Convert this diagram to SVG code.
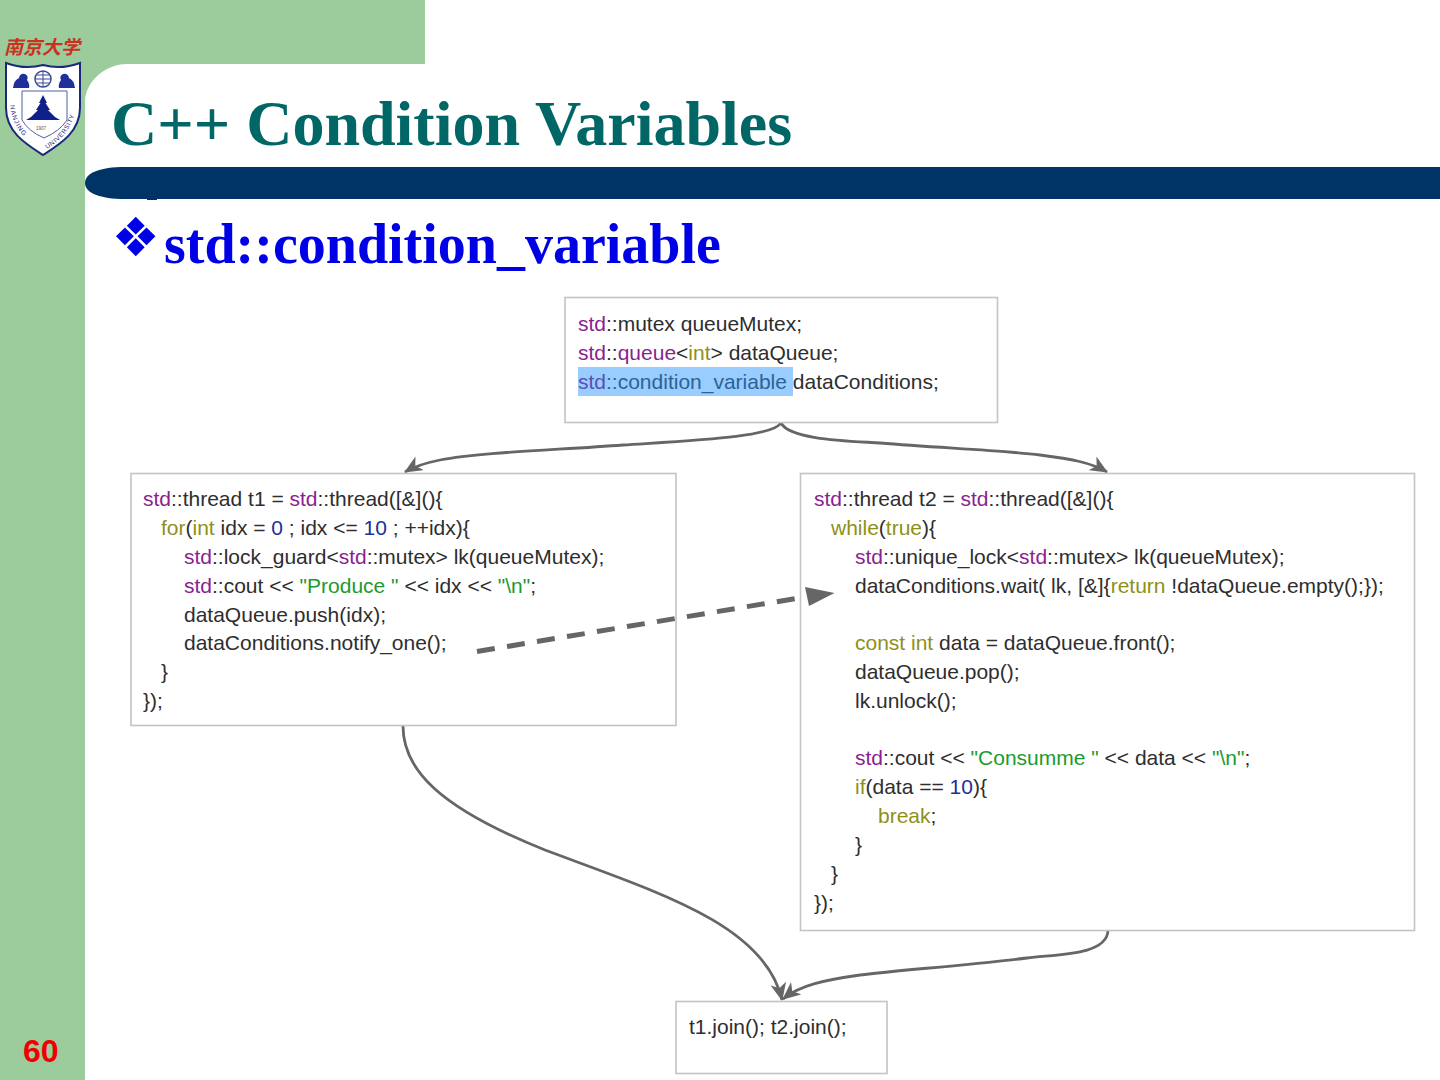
<svg xmlns="http://www.w3.org/2000/svg" xmlns:xlink="http://www.w3.org/1999/xlink" width="1440" height="1080" viewBox="0 0 1440 1080">
<style>
.box{fill:#fff;stroke:#c4c4c4;stroke-width:1.6}
.code{font-family:"Liberation Sans",Arial,sans-serif;font-size:21px;fill:#2e2e2e}
.k{fill:#8a1f8f}.y{fill:#8f8f1a}.g{fill:#1d9a2e}.n{fill:#1c2f9a}.hk{fill:#5a50b0}.hb{fill:#2a6496}
.edge{fill:none;stroke:#666;stroke-width:2.800}
.head{fill:#666}
.crest{font-family:"Liberation Sans",sans-serif;font-size:6.500px;fill:#1a2a7a}
</style>
<defs>
<marker id="ah" viewBox="0 0 18 16" refX="17" refY="8" markerWidth="18" markerHeight="16" markerUnits="userSpaceOnUse" orient="auto"><path d="M0 0L18 8L0 16L5 8Z" class="head"/></marker>
</defs>
<rect width="1440" height="1080" fill="#fff"/>
<g id="bg">
<path d="M0 0H425V64H127C105 64 85 82 85 102V1080H0Z" fill="#9ccc9c"/>
<path d="M85 183C85 173 100 167 125 167H1440V199H125C100 199 85 193 85 183Z" fill="#003366"/>
<rect x="147" y="198" width="10" height="2" fill="#003366"/>
</g>
<g id="logo">
<text x="4" y="54" font-family="'Noto Sans CJK SC',sans-serif" font-size="19" font-weight="700" fill="#c8321e" font-style="italic">南京大学</text>
<path d="M6 63Q25 70 43 65Q61 70 80 63V108C80 132 60 144 43 155C26 144 6 132 6 108Z" fill="#fff" stroke="#1a2a7a" stroke-width="2"/>
<path d="M22 91H67V120Q60 131 44 138Q28 131 22 120Z" fill="#fff" stroke="#5060a0" stroke-width="1"/>
<path d="M43 95L47 103H45.500L50 110H48L55 117L60 120H26L31 117L38 110H36L40.500 103H39Z" fill="#10208a"/>
<circle cx="43" cy="79" r="8" fill="#fff" stroke="#3a4a9a" stroke-width="1.500"/>
<path d="M35 79H51M43 71V87M36.500 75H49.500M36.500 83H49.500" stroke="#3a4a9a" stroke-width="1" fill="none"/>
<path d="M13 88Q14 80 19 78Q20 73 25 74Q29 76 27 80Q30 84 29 88Z" fill="#20309a"/>
<path d="M75 88Q74 80 69 78Q68 73 63 74Q59 76 61 80Q58 84 59 88Z" fill="#20309a"/>
<text x="41" y="130" font-family="'Liberation Sans',sans-serif" font-size="4.500" text-anchor="middle" fill="#555">1907</text>
<path id="arcL" d="M10 105C12 124 20 135 35 146" fill="none"/>
<path id="arcR" d="M47 149C60 141 74 128 76 105" fill="none"/>
<text class="crest"><textPath href="#arcL" xlink:href="#arcL" letter-spacing="1.000">NANJING</textPath></text>
<text class="crest"><textPath href="#arcR" xlink:href="#arcR" letter-spacing="0.600">UNIVERSITY</textPath></text>
</g>
<g id="heading">
<text x="111" y="145" font-family="'Liberation Serif',serif" font-size="64" font-weight="700" fill="#006666">C++ Condition Variables</text>
<text x="111.500" y="256" font-family="'DejaVu Sans',sans-serif" font-size="54" fill="#0000e6">❖</text>
<text x="164" y="263" font-family="'Liberation Serif',serif" font-size="56" font-weight="700" fill="#0000e6">std::condition_variable</text>
<text x="23" y="1062" font-family="'Liberation Sans',sans-serif" font-size="32" font-weight="700" fill="#f00000">60</text>
</g>
<g id="connectors">
<path class="edge" marker-end="url(#ah)" d="M781 423C772 437 700 440 623 445C560 450 480 452 440 460C425 463 415 466 405 472"/>
<path class="edge" marker-end="url(#ah)" d="M781 423C790 440 850 441 880 443C940 448 1000 450 1040 455C1070 459 1090 462 1107 472"/>
<path class="edge" marker-end="url(#ah)" d="M403 726C403 770 440 808 545 850C660 893 765 925 782 1000"/>
<path class="edge" marker-end="url(#ah)" d="M1108 931C1106 955 1060 954 1027 958C960 966 900 970 860 975C825 980 800 985 783 999"/>
</g>
<g id="n1">
<rect class="box" x="565" y="297.500" width="432.500" height="125"/>
<rect x="578" y="367" width="215" height="29" fill="#99ccff"/>
<text class="code" x="578" y="331"><tspan class="k">std</tspan>::mutex queueMutex;</text>
<text class="code" x="578" y="360"><tspan class="k">std</tspan>::<tspan class="k">queue</tspan>&lt;<tspan class="y">int</tspan>&gt; dataQueue;</text>
<text class="code" x="578" y="388.500"><tspan class="hk">std</tspan><tspan class="hb">::condition_variable</tspan> dataConditions;</text>
</g>
<g id="n2">
<rect class="box" x="131" y="473.500" width="545" height="252"/>
<text class="code" x="143" y="506"><tspan class="k">std</tspan>::thread t1 = <tspan class="k">std</tspan>::thread([&amp;](){</text>
<text class="code" x="161" y="535"><tspan class="y">for</tspan>(<tspan class="y">int</tspan> idx = <tspan class="n">0</tspan> ; idx &lt;= <tspan class="n">10</tspan> ; ++idx){</text>
<text class="code" x="184" y="564"><tspan class="k">std</tspan>::lock_guard&lt;<tspan class="k">std</tspan>::mutex&gt; lk(queueMutex);</text>
<text class="code" x="184" y="592.500"><tspan class="k">std</tspan>::cout &lt;&lt; <tspan class="g">"Produce "</tspan> &lt;&lt; idx &lt;&lt; <tspan class="g">"\n"</tspan>;</text>
<text class="code" x="184" y="621.500">dataQueue.push(idx);</text>
<text class="code" x="184" y="650">dataConditions.notify_one();</text>
<text class="code" x="161" y="679">}</text>
<text class="code" x="143" y="708">});</text>
</g>
<g id="n3">
<rect class="box" x="800.500" y="473.500" width="614" height="457"/>
<text class="code" x="814" y="506"><tspan class="k">std</tspan>::thread t2 = <tspan class="k">std</tspan>::thread([&amp;](){</text>
<text class="code" x="831" y="535"><tspan class="y">while</tspan>(<tspan class="y">true</tspan>){</text>
<text class="code" x="855" y="564"><tspan class="k">std</tspan>::unique_lock&lt;<tspan class="k">std</tspan>::mutex&gt; lk(queueMutex);</text>
<text class="code" x="855" y="592.500">dataConditions.wait( lk, [&amp;]{<tspan class="y">return</tspan> !dataQueue.empty();});</text>
<text class="code" x="855" y="650"><tspan class="y">const int</tspan> data = dataQueue.front();</text>
<text class="code" x="855" y="679">dataQueue.pop();</text>
<text class="code" x="855" y="707.500">lk.unlock();</text>
<text class="code" x="855" y="765"><tspan class="k">std</tspan>::cout &lt;&lt; <tspan class="g">"Consumme "</tspan> &lt;&lt; data &lt;&lt; <tspan class="g">"\n"</tspan>;</text>
<text class="code" x="855" y="794"><tspan class="y">if</tspan>(data == <tspan class="n">10</tspan>){</text>
<text class="code" x="878" y="822.500"><tspan class="y">break</tspan>;</text>
<text class="code" x="855" y="851.500">}</text>
<text class="code" x="831" y="880.500">}</text>
<text class="code" x="814" y="909.500">});</text>
</g>
<g id="n4">
<rect class="box" x="676" y="1001.500" width="211" height="72"/>
<text class="code" x="689" y="1034">t1.join(); t2.join();</text>
</g>
<g id="notify">
<path d="M477 651.500L805 597" fill="none" stroke="#666" stroke-width="5" stroke-dasharray="18 12.400"/>
<path d="M805 587L834.500 593L809 606Z" fill="#666"/>
</g>
</svg>
